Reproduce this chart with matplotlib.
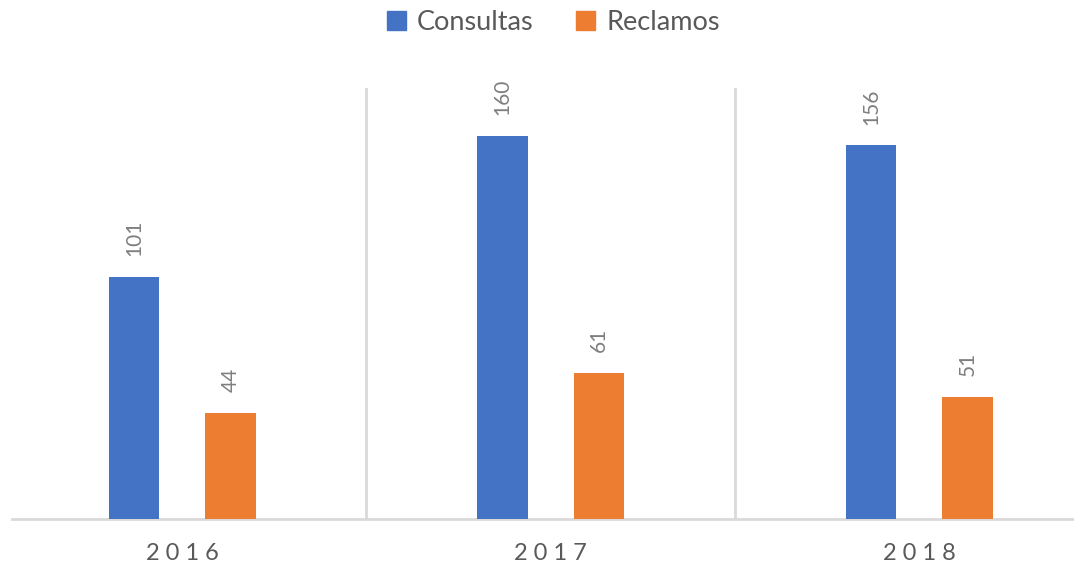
import numpy as np
import matplotlib.pyplot as plt
from matplotlib.patches import Patch

years = ['2016', '2017', '2018']
consultas = [101, 160, 156]
reclamos = [44, 61, 51]

blue = '#4472C4'
orange = '#ED7D31'
grid_col = '#D9D9D9'

plt.rcParams['font.family'] = ['Lato', 'DejaVu Sans']

fig = plt.figure(figsize=(10.74, 5.86), dpi=100)
ax = fig.add_axes([12 / 1074, (586 - 518.5) / 586, 1062 / 1074, 430.5 / 586])

x = np.arange(len(years))
w = 0.136
off = 0.131
b1 = ax.bar(x - off, consultas, w, color=blue, label='Consultas', zorder=3)
b2 = ax.bar(x + off, reclamos, w, color=orange, label='Reclamos', zorder=3)

for bars in (b1, b2):
    for r in bars:
        ax.annotate(str(int(r.get_height())),
                    (r.get_x() + r.get_width() / 2, r.get_height()),
                    xytext=(0, 15), textcoords='offset points',
                    rotation=90, ha='center', va='bottom',
                    fontsize=15, color='#7F7F7F')

ax.set_xlim(-0.462, 2.420)
ax.set_ylim(0, 180)
for sep in [0.5, 1.5]:
    ax.axvline(sep, color=grid_col, lw=2, zorder=1)

for s in ['top', 'right', 'left']:
    ax.spines[s].set_visible(False)
ax.spines['bottom'].set_color(grid_col)
ax.spines['bottom'].set_linewidth(2)
ax.set_yticks([])
ax.set_xticks(x)
ax.set_xticklabels([' '.join(y) for y in years], fontsize=17, color='#595959')
ax.tick_params(axis='x', length=0, pad=18)

handles = [Patch(color=blue, label='Consultas'), Patch(color=orange, label='Reclamos')]
fig.legend(handles=handles, loc='center', bbox_to_anchor=(0.515, 0.962), ncol=2,
           frameon=False, fontsize=19.5, labelcolor='#595959',
           handlelength=0.7, handleheight=0.7, handletextpad=0.4, columnspacing=1.6)

fig.savefig('out.png', dpi=100)
